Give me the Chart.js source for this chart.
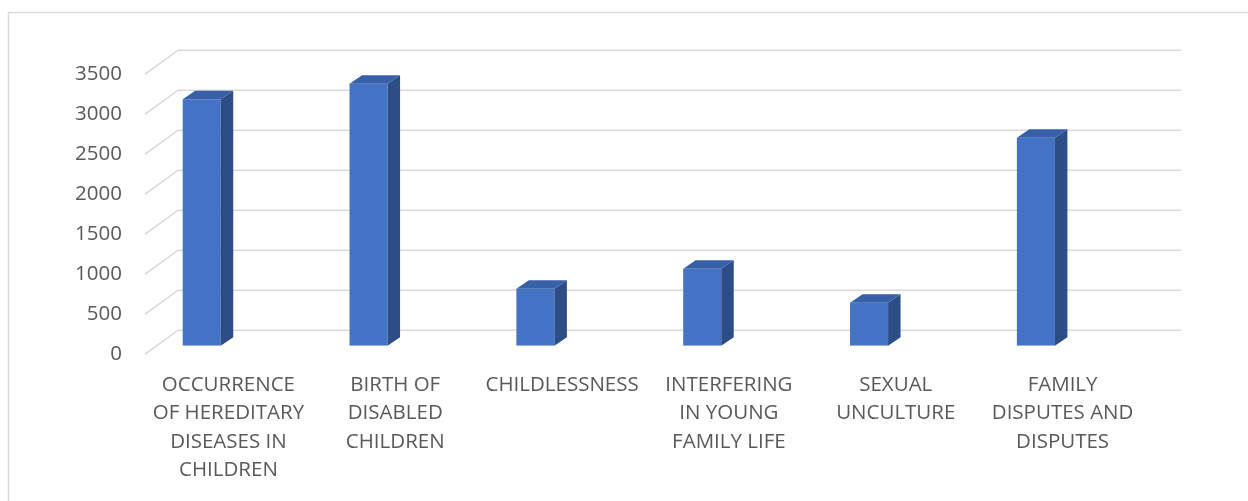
<!DOCTYPE html>
<html>
<head>
<meta charset="utf-8">
<style>
	html, body { margin: 0; padding: 0; background: #fff; }
	#wrap { width: 1248px; height: 501px; }
</style>
<script src="https://cdn.jsdelivr.net/npm/chart.js@4/dist/chart.umd.min.js"></script>
</head>
<body>
<div id="wrap"><canvas id="barChart" width="1248" height="501"></canvas></div>
<script>
// カテゴリ
var categories = [
	['OCCURRENCE', 'OF HEREDITARY', 'DISEASES IN', 'CHILDREN'],
	['BIRTH OF', 'DISABLED', 'CHILDREN'],
	'CHILDLESSNESS',
	['INTERFERING', 'IN YOUNG', 'FAMILY LIFE'],
	['SEXUAL', 'UNCULTURE'],
	['FAMILY', 'DISPUTES AND', 'DISPUTES']
];
// 値
var values = [3080, 3275, 712, 962, 537, 2600];
// 目盛り
var yTicks = [0, 500, 1000, 1500, 2000, 2500, 3000, 3500];

(function() {
	var depthX = 33, frontDy = 8.5, backDy = -15.5; // 床の奥行き
	var sideX = 12.5, sideY = -8.5;                 // 棒の奥行き
	var barShift = -26.7;

	// 外枠
	var framePlugin = {
		id: 'frame',
		beforeDraw: function(chart) {
			var ctx = chart.ctx;
			ctx.save();
			ctx.strokeStyle = '#d9d9d9';
			ctx.lineWidth = 1.5;
			ctx.beginPath();
			ctx.moveTo(8.5, 501);
			ctx.lineTo(8.5, 12.5);
			ctx.lineTo(1248, 12.5);
			ctx.stroke();
			ctx.restore();
		}
	};

	// 3D風グリッドと棒の側面・上面
	var box3dPlugin = {
		id: 'box3d',
		beforeDatasetsDraw: function(chart) {
			var ctx = chart.ctx, y = chart.scales.y, area = chart.chartArea;
			ctx.save();
			ctx.strokeStyle = '#d9d9d9';
			ctx.lineWidth = 1.5;
			yTicks.forEach(function(v) {
				var yb = y.getPixelForValue(v);
				ctx.beginPath();
				ctx.moveTo(area.left, yb + frontDy);
				ctx.lineTo(area.left + depthX, yb + backDy);
				ctx.lineTo(area.right + depthX + 2, yb + backDy);
				ctx.stroke();
			});
			ctx.restore();
			ctx.save();
			ctx.translate(barShift, 0);
		},
		afterDatasetsDraw: function(chart) {
			var ctx = chart.ctx;
			var meta = chart.getDatasetMeta(0);
			meta.data.forEach(function(bar) {
				var p = bar.getProps(['x', 'y', 'base', 'width'], true);
				var l = p.x - p.width / 2, r = p.x + p.width / 2;
				// 側面
				ctx.fillStyle = '#2c4d86';
				ctx.beginPath();
				ctx.moveTo(r, p.y);
				ctx.lineTo(r + sideX, p.y + sideY);
				ctx.lineTo(r + sideX, p.base + sideY);
				ctx.lineTo(r, p.base);
				ctx.closePath();
				ctx.fill();
				// 上面
				ctx.fillStyle = '#3760a8';
				ctx.beginPath();
				ctx.moveTo(l, p.y);
				ctx.lineTo(l + sideX, p.y + sideY);
				ctx.lineTo(r + sideX, p.y + sideY);
				ctx.lineTo(r, p.y);
				ctx.closePath();
				ctx.fill();
			});
			ctx.restore();
		}
	};

	var ctx = document.getElementById('barChart').getContext('2d');
	var font = { family: "'Open Sans', sans-serif", size: 20.5, lineHeight: 1.39 };

	new Chart(ctx, {
		type: 'bar',
		data: {
			labels: categories,
			datasets: [{
				data: values,
				backgroundColor: '#4472c4',
				borderWidth: 0,
				barPercentage: 0.228,
				categoryPercentage: 1
			}]
		},
		options: {
			responsive: false,
			animation: false,
			events: [],
			layout: { padding: { left: 0, right: 102, top: 65.7, bottom: 0 } },
			plugins: { legend: { display: false }, tooltip: { enabled: false } },
			scales: {
				x: {
					grid: { display: false, drawTicks: false },
					border: { display: false },
					ticks: {
						color: '#595959',
						font: font,
						padding: 25,
						autoSkip: false,
						maxRotation: 0,
						minRotation: 0
					},
					afterFit: function(scale) { scale.height = 155.3; }
				},
				y: {
					min: 0,
					max: 3500,
					grid: { display: false, drawTicks: false },
					border: { display: false },
					afterBuildTicks: function(scale) {
						scale.ticks = yTicks.map(function(v) { return { value: v }; });
					},
					ticks: {
						color: '#595959',
						font: font,
						padding: 23,
						labelOffset: 8.5,
						callback: function(v) { return String(v); }
					},
					afterFit: function(scale) { scale.width = 145; }
				}
			}
		},
		plugins: [framePlugin, box3dPlugin]
	});
})();
</script>
</body>
</html>
